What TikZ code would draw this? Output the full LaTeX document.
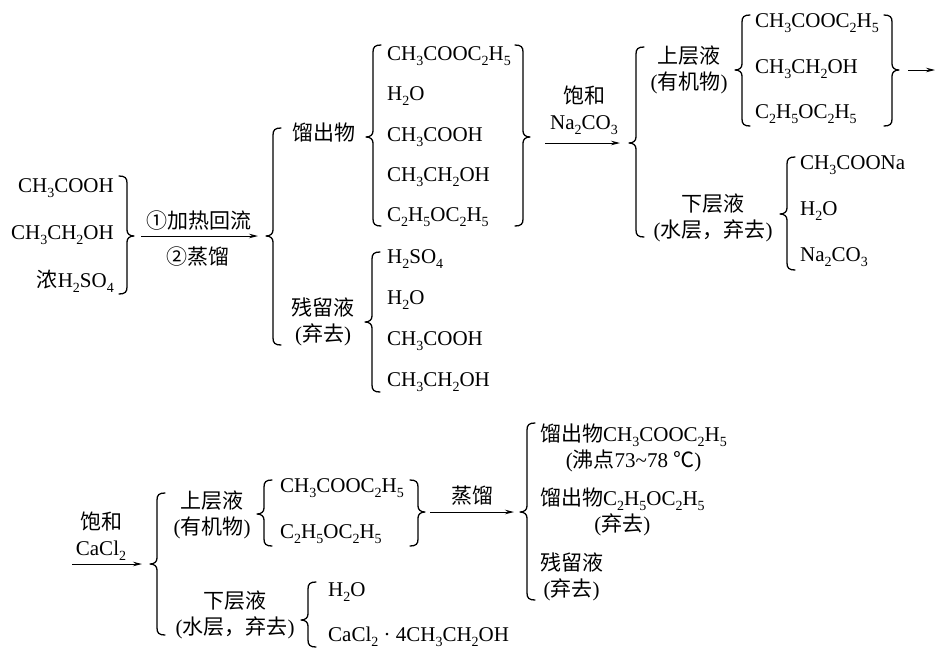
\documentclass[tikz,border=0pt]{standalone}
\usepackage{fontspec}
\setmainfont{Liberation Serif}
\newfontfamily\cjk{Noto Sans CJK SC}
\newcommand\zh[1]{{\cjk #1}}
\newcommand\sub[1]{\raisebox{-0.22em}{\fontsize{14}{14}\selectfont #1}}
\usetikzlibrary{arrows.meta}
\tikzset{
  txt/.style={font=\fontsize{21}{26}\selectfont, inner sep=0pt},
  lab/.style={txt, align=center},
  brc/.style={line width=1.3pt, line cap=round, line join=round},
  arr/.style={line width=1pt, -{Stealth[length=9pt,width=4.5pt]}},
}
% left brace: #1 name, #2 x of vertical, #3 top y, #4 bottom y, #5 tip y
\newcommand\LB[5]{%
  \draw[brc] ({#2+8},#3) .. controls ({#2+2},#3) and (#2,{#3+2}) .. (#2,{#3+7})
    -- (#2,{#5-6}) .. controls (#2,{#5-2}) and ({#2-3},#5) .. ({#2-7},#5)
    .. controls ({#2-3},#5) and (#2,{#5+2}) .. (#2,{#5+6})
    -- (#2,{#4-7}) .. controls (#2,{#4-2}) and ({#2+2},#4) .. ({#2+8},#4);
  \coordinate (#1) at ({#2-7},#5);}
% right brace
\newcommand\RB[5]{%
  \draw[brc] ({#2-8},#3) .. controls ({#2-2},#3) and (#2,{#3+2}) .. (#2,{#3+7})
    -- (#2,{#5-6}) .. controls (#2,{#5-2}) and ({#2+3},#5) .. ({#2+7},#5)
    .. controls ({#2+3},#5) and (#2,{#5+2}) .. (#2,{#5+6})
    -- (#2,{#4-7}) .. controls (#2,{#4-2}) and ({#2-2},#4) .. ({#2-8},#4);
  \coordinate (#1) at ({#2+7},#5);}
\begin{document}
\begin{tikzpicture}[x=1pt,y=-1pt]
\useasboundingbox (0,0) rectangle (936,648);

% ---- left reactants
\node[txt, anchor=east] (a1) at (114,188) {CH\sub3COOH};
\node[txt, anchor=east] (a2) at (114,235) {CH\sub3CH\sub2OH};
\node[txt, anchor=east] (a3) at (114,281) {\zh{浓}H\sub2SO\sub4};
\RB{b1}{127}{176}{294}{236}
\node[txt] (l1) at (199,221) {\zh{①加热回流}};
\node[txt] (l2) at (198,257) {\zh{②蒸馏}};
\LB{b2}{273}{128}{345}{236}
\draw[arr, shorten <=7pt, shorten >=8pt] (b1) -- (b2);

% ---- distillate
\node[txt, anchor=west] (d) at (292,133) {\zh{馏出物}};
\LB{b3}{373}{45}{226}{137}
\node[txt, anchor=west] (d1) at (387,56) {CH\sub3COOC\sub2H\sub5};
\node[txt, anchor=west] (d2) at (387,96) {H\sub2O};
\node[txt, anchor=west] (d3) at (387,137) {CH\sub3COOH};
\node[txt, anchor=west] (d4) at (387,177) {CH\sub3CH\sub2OH};
\node[txt, anchor=west] (d5) at (387,217) {C\sub2H\sub5OC\sub2H\sub5};
\RB{b4}{523}{45}{226}{137}

% ---- residue
\node[lab] (r) at (323,322) {\zh{残留液}\\(\zh{弃去})};
\LB{b9}{372}{252}{392}{322}
\node[txt, anchor=west] (r1) at (387,259) {H\sub2SO\sub4};
\node[txt, anchor=west] (r2) at (387,300) {H\sub2O};
\node[txt, anchor=west] (r3) at (387,341) {CH\sub3COOH};
\node[txt, anchor=west] (r4) at (387,382) {CH\sub3CH\sub2OH};

% ---- Na2CO3 step
\node[lab] (na) at (584,110) {\zh{饱和}\\Na\sub2CO\sub3};
\LB{b5}{636}{47}{237}{143}
\draw[arr, shorten <=15pt, shorten >=9pt] (b4 |- b5) -- (b5);

\node[lab] (up) at (689,70) {\zh{上层液}\\(\zh{有机物})};
\LB{b6}{742}{15}{126}{70}
\node[txt, anchor=west] (u1) at (755,23) {CH\sub3COOC\sub2H\sub5};
\node[txt, anchor=west] (u2) at (755,69) {CH\sub3CH\sub2OH};
\node[txt, anchor=west] (u3) at (755,114) {C\sub2H\sub5OC\sub2H\sub5};
\RB{b7}{892}{15}{126}{70}
\coordinate (e1) at (935,70);
\draw[arr, shorten <=9pt] (b7) -- (e1);

\node[lab] (lo) at (713,218) {\zh{下层液}\\(\zh{水层，弃去})};
\LB{b8}{787}{157}{270}{214}
\node[txt, anchor=west] (o1) at (800,165) {CH\sub3COONa};
\node[txt, anchor=west] (o2) at (800,211) {H\sub2O};
\node[txt, anchor=west] (o3) at (800,257) {Na\sub2CO\sub3};

% ---- CaCl2 step
\node[lab] (ca) at (101,536) {\zh{饱和}\\CaCl\sub2};
\coordinate (s2) at (72,564);
\LB{b10}{157}{493}{635}{564}
\draw[arr, shorten >=8pt] (s2) -- (s2 -| b10);

\node[lab] (up2) at (212,515) {\zh{上层液}\\(\zh{有机物})};
\LB{b11}{264}{480}{546}{514}
\node[txt, anchor=west] (v1) at (280,488) {CH\sub3COOC\sub2H\sub5};
\node[txt, anchor=west] (v2) at (280,534) {C\sub2H\sub5OC\sub2H\sub5};
\RB{b12}{418}{480}{546}{512}

\node[txt] (zl) at (472,496) {\zh{蒸馏}};
\LB{b13}{527}{423}{600}{512}
\draw[arr, shorten <=5pt, shorten >=6pt] (b12) -- (b13);

\node[lab, anchor=west] (f1) at (540,448) {\zh{馏出物}CH\sub3COOC\sub2H\sub5\\(\zh{沸点}73\textasciitilde78 \zh{℃})};
\node[lab, anchor=west] (f2) at (540,512) {\zh{馏出物}C\sub2H\sub5OC\sub2H\sub5\\(\zh{弃去})};
\node[lab, anchor=west] (f3) at (540,577) {\zh{残留液}\\(\zh{弃去})};

\node[lab] (lo2) at (235,615) {\zh{下层液}\\(\zh{水层，弃去})};
\LB{b14}{308}{582}{647}{620}
\node[txt, anchor=west] (w1) at (328,592) {H\sub2O};
\node[txt, anchor=west] (w2) at (328,637) {CaCl\sub2 · 4CH\sub3CH\sub2OH};
\end{tikzpicture}
\end{document}
